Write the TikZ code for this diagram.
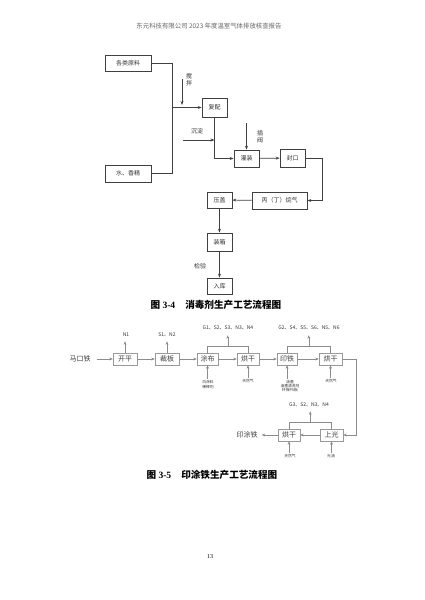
\documentclass[tikz,border=0pt]{standalone}
\usepackage{fontspec}
\setmainfont{Noto Sans CJK SC}
\newfontfamily\tnr{Liberation Serif}
\usetikzlibrary{arrows.meta,calc}
\newcommand\myfs[1]{\fontsize{#1}{#1}\selectfont}
\begin{document}
\begin{tikzpicture}[x=1pt,y=-1pt,
  arrA/.style={-{Stealth[length=4pt,width=3pt]}},
  arrB/.style={-{Stealth[length=3.5pt,width=2.8pt]}},
  lineA/.style={draw=black!75, line width=0.7pt},
  lineB/.style={draw=black!45, line width=0.45pt},
  boxA/.style={lineA, inner sep=0pt, minimum height=17pt, text=black!80, font=\myfs{6}},
  boxB/.style={draw=black!40, line width=0.45pt, inner sep=0pt, minimum height=12pt, text=black!75, font=\myfs{7}},
  txtA/.style={inner sep=0pt, text=black!80, font=\myfs{6}, align=center},
  txtB/.style={inner sep=0pt, text=black!80, font=\myfs{5}, align=center},
  txtC/.style={inner sep=0pt, text=black!80, font=\myfs{3.8}, align=center}]
\useasboundingbox[fill=white] (0,0) rectangle (424,600);

% header
\node[inner sep=0pt, text=black!60, font=\myfs{6.4}] (hdr) at (209,26) {东元科技有限公司 2023 年度温室气体排放核查报告};

% ---------------- Figure 3-4 ----------------
\node[boxA, minimum width=46pt, minimum height=16pt] (raw) at (128,63) {各类原料};
\node[boxA, minimum width=46pt] (water) at (128,173.5) {水、香精};
\node[boxA, minimum width=25pt, minimum height=19pt] (fupei) at (214.5,107.5) {复配};
\node[boxA, minimum width=25pt] (guan) at (246.5,158.5) {灌装};
\node[boxA, minimum width=25pt, minimum height=18pt] (feng) at (292.5,158) {封口};
\node[boxA, minimum width=55pt] (bing) at (279.5,200.5) {丙（丁）烷气};
\node[boxA, minimum width=25pt, minimum height=16pt] (yagai) at (219.5,200) {压盖};
\node[boxA, minimum width=25pt, minimum height=18pt] (zhuang) at (219.5,242) {装箱};
\node[boxA, minimum width=25pt, minimum height=16pt] (ruku) at (219.5,286) {入库};

\coordinate (mix) at (172,63);
\draw[lineA] (raw.east) -- (mix) -- (mix |- water.east) -- (water.east);
\draw[lineA, arrA] (mix |- fupei.west) -- (fupei.west);
\coordinate (stir) at (182,79);
\draw[lineA, arrA] (stir) -- ++(0,26);
\node[txtA] (stirt) at (189,80) {搅\\[1pt]拌};
\draw[lineA, arrA] (fupei.south) |- (guan.west);
\coordinate (cd) at (183,140);
\draw[lineA, arrA] (cd) -- (cd -| fupei.south);
\node[txtA] (cdt) at (197,131) {沉淀};
\coordinate (ch) at (246.5,123);
\draw[lineA, arrA] (ch) -- (guan.north);
\node[txtA] (cht) at (260,137) {插\\[1pt]阀};
\draw[lineA, arrA] (guan) -- (feng);
\coordinate (fr) at (322,158);
\draw[lineA, arrA] (feng.east) -- (fr) |- (bing.east);
\draw[lineA, arrA] (bing) -- (yagai);
\draw[lineA, arrA] (yagai) -- (zhuang);
\draw[lineA, arrA] (zhuang) -- (ruku);
\node[txtA] (jy) at (200,266) {检验};

\node[inner sep=0pt, font=\myfs{9.6}\bfseries] (cap1) at (216,305) {图 {\tnr 3-4}\hspace{10pt}消毒剂生产工艺流程图};

% ---------------- Figure 3-5 ----------------
\node[inner sep=0pt, text=black!75, font=\myfs{7}] (mt) at (80,359) {马口铁};
\node[boxB, minimum width=24pt] (kp) at (125,359) {开平};
\node[boxB, minimum width=24pt] (cb) at (167,359) {裁板};
\node[boxB, minimum width=21pt] (tb) at (207.5,359) {涂布};
\node[boxB, minimum width=22pt] (hg1) at (248,359) {烘干};
\node[boxB, minimum width=20pt] (yt) at (287,359) {印铁};
\node[boxB, minimum width=23pt] (hg2) at (330.5,359) {烘干};
\node[boxB, minimum width=23pt] (sg) at (331.5,435) {上光};
\node[boxB, minimum width=22pt] (hg3) at (289,435) {烘干};
\node[inner sep=0pt, text=black!75, font=\myfs{7}] (ytt) at (247,435) {印涂铁};

\draw[lineB, arrB] (mt.east) ++(6,0) -- (kp.west);
\draw[lineB, arrB] (kp) -- (cb);
\draw[lineB, arrB] (cb) -- (tb);
\draw[lineB, arrB] (tb) -- (hg1);
\draw[lineB, arrB] (hg1) -- (yt);
\draw[lineB, arrB] (yt) -- (hg2);

\node[txtB] (n1) at (126,335) {N1};
\draw[lineB, arrB] (kp.north) -- ($(kp.north)+(0,-11.5)$);
\node[txtB] (s1) at (167,335) {S1、N2};
\draw[lineB, arrB] (cb.north) -- ($(cb.north)+(0,-11.5)$);

% bracket 1
\draw[lineB] (tb.north) -- ++(0,-6.5) coordinate (b1) -| (hg1.north);
\coordinate (b1m) at ($(b1)!0.5!(b1 -| hg1.north)$);
\draw[lineB, arrB] (b1m) -- ++(0,-11);
\node[txtB] (g1) at (228,328) {G1、S2、S3、N3、N4};
% bracket 2
\draw[lineB] (yt.north) -- ++(0,-6.5) coordinate (b2) -| (hg2.north);
\coordinate (b2m) at ($(b2)!0.5!(b2 -| hg2.north)$);
\draw[lineB, arrB] (b2m) -- ++(0,-11);
\node[txtB] (g2) at (309,328) {G2、S4、S5、S6、N5、N6};

% inputs below
\node[txtC] (bt) at (208,384.5) {白涂料\\[0.6pt]稀释剂};
\draw[lineB, arrB] (tb.south |- bt.north) ++(0,-1) -- (tb.south);
\node[txtC] (tq1) at (248,381.5) {天然气};
\draw[lineB, arrB] (hg1.south |- tq1.north) ++(0,-1.5) -- (hg1.south);
\node[txtC] (ym) at (290,386) {油墨\\[0.6pt]油墨清洗剂\\[0.6pt]环保PS板};
\draw[lineB, arrB] (yt.south |- 0,378.5) -- (yt.south);
\node[txtC] (tq2) at (331,381.5) {天然气};
\draw[lineB, arrB] (hg2.south |- tq2.north) ++(0,-1.5) -- (hg2.south);

% return path
\coordinate (rr) at (356,359);
\draw[lineB, arrB] (hg2.east) -- (rr) |- (sg.east);
\draw[lineB, arrB] (sg) -- (hg3);
\draw[lineB, arrB] (hg3) -- ($(ytt.east)+(4,0)$);

% bracket 3
\draw[lineB] (hg3.north) -- ++(0,-6.5) coordinate (b3) -| (sg.north);
\coordinate (b3m) at ($(b3)!0.5!(b3 -| sg.north)$);
\draw[lineB, arrB] (b3m) -- ++(0,-11);
\node[txtB] (g3) at (309,405) {G3、S2、N3、N4};

\node[txtC] (tq3) at (290,456) {天然气};
\draw[lineB, arrB] (hg3.south |- tq3.north) ++(0,-1.5) -- (hg3.south);
\node[txtC] (gy) at (331,456) {光油};
\draw[lineB, arrB] (sg.south |- gy.north) ++(0,-1.5) -- (sg.south);

\node[inner sep=0pt, font=\myfs{9.6}\bfseries] (cap2) at (212,475) {图 {\tnr 3-5}\hspace{10pt}印涂铁生产工艺流程图};

\node[inner sep=0pt, font=\myfs{6}] (pg) at (210,557) {{\tnr 13}};
\end{tikzpicture}
\end{document}
